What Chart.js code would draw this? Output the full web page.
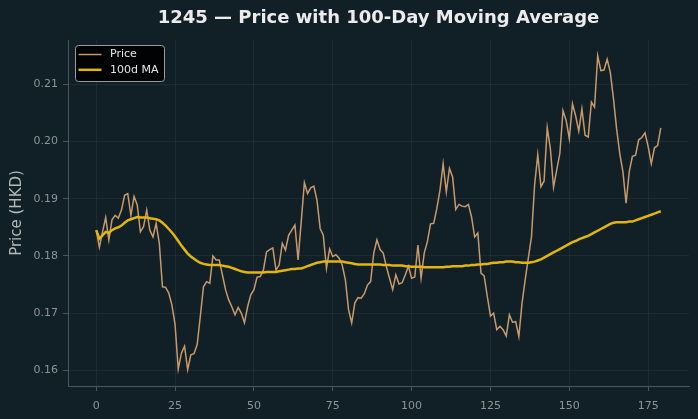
<!DOCTYPE html>
<html>
<head>
<meta charset="utf-8">
<script src="https://cdn.jsdelivr.net/npm/chart.js@4.4.1/dist/chart.umd.min.js"></script>
<style>
  html, body { margin: 0; padding: 0; background: #111f26; }
  #wrap { width: 698px; height: 419px; }
</style>
</head>
<body>
<div id="wrap"><canvas id="c" width="698" height="419"></canvas></div>
<script>
const chartTitle = "1245 — Price with 100-Day Moving Average";
const yAxisTitle = "Price (HKD)";
const seriesNames = ["Price", "100d MA"];
const xTickValues = [0, 25, 50, 75, 100, 125, 150, 175];
const yTickValues = [0.16, 0.17, 0.18, 0.19, 0.20, 0.21];

const price = [
  0.1845, 0.1815, 0.1842, 0.1867, 0.1828, 0.1863, 0.1871, 0.1866, 0.1880, 0.1906,
  0.1909, 0.1871, 0.1904, 0.1889, 0.1842, 0.1851, 0.1880, 0.1845, 0.1833, 0.1857,
  0.1822, 0.1746, 0.1745, 0.1735, 0.1714, 0.1680, 0.1602, 0.1630, 0.1642, 0.1601,
  0.1627, 0.1629, 0.1645, 0.1694, 0.1746, 0.1755, 0.1752, 0.1800, 0.1793, 0.1793,
  0.1767, 0.1741, 0.1723, 0.1711, 0.1697, 0.1710, 0.1700, 0.1683, 0.1711, 0.1732,
  0.1741, 0.1763, 0.1764, 0.1775, 0.1807, 0.1811, 0.1814, 0.1775, 0.1784, 0.1822,
  0.1810, 0.1836, 0.1845, 0.1854, 0.1793, 0.1860, 0.1928, 0.1909, 0.1919, 0.1922,
  0.1897, 0.1848, 0.1836, 0.1778, 0.1812, 0.1799, 0.1802, 0.1796, 0.1784, 0.1758,
  0.1706, 0.1683, 0.1718, 0.1727, 0.1726, 0.1734, 0.1749, 0.1755, 0.1805, 0.1828,
  0.1811, 0.1805, 0.1781, 0.1761, 0.1741, 0.1767, 0.1751, 0.1753, 0.1767, 0.1782,
  0.1761, 0.1763, 0.1819, 0.1761, 0.1805, 0.1825, 0.1856, 0.1857, 0.1883, 0.1915,
  0.1961, 0.1912, 0.1953, 0.1938, 0.1881, 0.1890, 0.1887, 0.1886, 0.1890, 0.1868,
  0.1833, 0.1840, 0.1770, 0.1765, 0.1729, 0.1695, 0.1700, 0.1671, 0.1677, 0.1671,
  0.1660, 0.1697, 0.1684, 0.1685, 0.1659, 0.1717, 0.1758, 0.1796, 0.1833, 0.1924,
  0.1977, 0.1921, 0.1931, 0.2024, 0.1987, 0.1920, 0.1950, 0.1979, 0.2054, 0.2037,
  0.2005, 0.2066, 0.2045, 0.2018, 0.2057, 0.2011, 0.2008, 0.2069, 0.2060, 0.2150,
  0.2124, 0.2125, 0.2144, 0.2121, 0.2075, 0.2022, 0.1979, 0.1947, 0.1892, 0.1947,
  0.1974, 0.1976, 0.2003, 0.2007, 0.2015, 0.1991, 0.1961, 0.1989, 0.1993, 0.2024
];

const movingAvg = [
  0.1845, 0.1830, 0.1836, 0.1842, 0.1840, 0.1845, 0.1848, 0.1850, 0.1853, 0.1858,
  0.1862, 0.1864, 0.1866, 0.1868, 0.1867, 0.1867, 0.1867, 0.1866, 0.1865, 0.1864,
  0.1862, 0.1858, 0.1853, 0.1847, 0.1841, 0.1834, 0.1826, 0.1818, 0.1811, 0.1804,
  0.1799, 0.1795, 0.1791, 0.1788, 0.1786, 0.1785, 0.1784, 0.1784, 0.1784, 0.1784,
  0.1783, 0.1782, 0.1781, 0.1779, 0.1777, 0.1775, 0.1773, 0.1772, 0.1771, 0.1771,
  0.1771, 0.1771, 0.1771, 0.1771, 0.1772, 0.1772, 0.1772, 0.1772, 0.1773, 0.1774,
  0.1775, 0.1776, 0.1777, 0.1777, 0.1778, 0.1778, 0.1780, 0.1782, 0.1784, 0.1786,
  0.1788, 0.1789, 0.1790, 0.1790, 0.1790, 0.1790, 0.1790, 0.1790, 0.1790, 0.1789,
  0.1788, 0.1787, 0.1786, 0.1785, 0.1785, 0.1785, 0.1785, 0.1785, 0.1785, 0.1785,
  0.1785, 0.1784, 0.1784, 0.1784, 0.1783, 0.1783, 0.1783, 0.1783, 0.1782, 0.1782,
  0.1781, 0.1781, 0.1781, 0.1781, 0.1780, 0.1780, 0.1780, 0.1780, 0.1780, 0.1780,
  0.1780, 0.1781, 0.1781, 0.1782, 0.1782, 0.1782, 0.1782, 0.1783, 0.1783, 0.1784,
  0.1784, 0.1785, 0.1785, 0.1786, 0.1786, 0.1787, 0.1788, 0.1788, 0.1789, 0.1789,
  0.1790, 0.1790, 0.1790, 0.1789, 0.1789, 0.1788, 0.1788, 0.1788, 0.1789, 0.1790,
  0.1792, 0.1794, 0.1797, 0.1800, 0.1803, 0.1806, 0.1809, 0.1812, 0.1815, 0.1818,
  0.1821, 0.1824, 0.1826, 0.1829, 0.1831, 0.1833, 0.1835, 0.1838, 0.1841, 0.1844,
  0.1847, 0.1850, 0.1853, 0.1856, 0.1858, 0.1859, 0.1859, 0.1859, 0.1859, 0.1860,
  0.1860, 0.1862, 0.1864, 0.1866, 0.1868, 0.1870, 0.1872, 0.1874, 0.1876, 0.1878
];

const BG = '#111f26';
const GRID = 'rgba(255,255,255,0.05)';
const SPINE = '#4c555a';
const TICKTXT = '#8e9498';
const FONT = "'DejaVu Sans', sans-serif";

const toPoints = arr => arr.map((v, i) => ({ x: i, y: v }));

const bgPlugin = {
  id: 'bg',
  beforeDraw(chart) {
    const ctx = chart.ctx;
    ctx.save();
    ctx.fillStyle = BG;
    ctx.fillRect(0, 0, chart.width, chart.height);
    ctx.restore();
  }
};

const legendPlugin = {
  id: 'innerLegend',
  afterDraw(chart) {
    const ctx = chart.ctx;
    const a = chart.chartArea;
    const x = a.left + 7, y = a.top + 5, w = 89, h = 36;
    ctx.save();
    ctx.beginPath();
    ctx.roundRect(x + 0.5, y + 0.5, w, h, 3);
    ctx.fillStyle = 'rgba(0,0,0,0.92)';
    ctx.fill();
    ctx.strokeStyle = '#9a9a9a';
    ctx.lineWidth = 1;
    ctx.stroke();
    ctx.font = "11px " + FONT;
    ctx.textBaseline = 'middle';
    const rows = [chart.data.datasets[0], chart.data.datasets[1]];
    rows.forEach((ds, k) => {
      const ry = y + 9.5 + k * 15.3;
      ctx.beginPath();
      ctx.moveTo(x + 3.5, ry);
      ctx.lineTo(x + 26.5, ry);
      ctx.strokeStyle = ds.borderColor;
      ctx.lineWidth = ds.borderWidth;
      ctx.stroke();
      ctx.fillStyle = '#e6e6e6';
      ctx.fillText(ds.label, x + 35, ry);
    });
    ctx.restore();
  }
};

new Chart(document.getElementById('c'), {
  type: 'line',
  data: {
    datasets: [
      {
        label: seriesNames[0],
        data: toPoints(price),
        borderColor: '#c89a6b',
        borderWidth: 1.5,
        pointRadius: 0,
        tension: 0,
        order: 2
      },
      {
        label: seriesNames[1],
        data: toPoints(movingAvg),
        borderColor: '#e3b50f',
        borderWidth: 2.5,
        pointRadius: 0,
        tension: 0,
        order: 1
      }
    ]
  },
  options: {
    responsive: false,
    animation: false,
    devicePixelRatio: 1,
    layout: { padding: { left: 0, right: 9, top: 0, bottom: 0 } },
    plugins: {
      legend: { display: false },
      tooltip: { enabled: false },
      title: {
        display: true,
        fullSize: false,
        text: chartTitle,
        color: '#ececec',
        font: { family: FONT, size: 18, weight: 'bold' },
        padding: { top: 7.4, bottom: 11 }
      }
    },
    scales: {
      x: {
        type: 'linear',
        min: -8.95,
        max: 187.95,
        afterBuildTicks(scale) { scale.ticks = xTickValues.map(v => ({ value: v })); },
        afterFit(scale) { scale.height = 33; },
        grid: { color: GRID, lineWidth: 1, drawTicks: true, tickLength: 5, tickColor: SPINE },
        border: { color: SPINE, width: 1 },
        ticks: { color: TICKTXT, font: { family: FONT, size: 11 }, padding: 9, maxRotation: 0, autoSkip: false }
      },
      y: {
        type: 'linear',
        min: 0.15725,
        max: 0.21775,
        afterBuildTicks(scale) { scale.ticks = yTickValues.map(v => ({ value: v })); },
        afterFit(scale) { scale.width = 68; },
        grid: { color: GRID, lineWidth: 1, drawTicks: true, tickLength: 5, tickColor: SPINE },
        border: { color: SPINE, width: 1 },
        ticks: { color: TICKTXT, font: { family: FONT, size: 11 }, padding: 5, callback: v => v.toFixed(2), autoSkip: false },
        title: {
          display: true,
          text: yAxisTitle,
          color: '#b4b9bc',
          font: { family: FONT, size: 15 },
          padding: { top: 8, bottom: 0 }
        }
      }
    }
  },
  plugins: [bgPlugin, legendPlugin]
});
</script>
</body>
</html>
